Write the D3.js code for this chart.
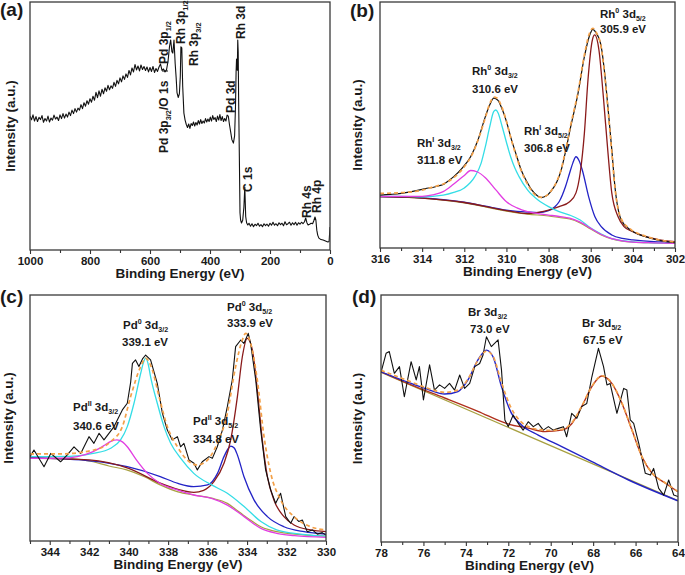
<!DOCTYPE html>
<html><head><meta charset="utf-8">
<script src="https://cdn.jsdelivr.net/npm/d3@7"></script>
<style>
body{margin:0;background:#fff;}
svg text{font-family:"Liberation Sans",Arial,Helvetica,sans-serif;font-weight:bold;fill:#1a1a1a;}
</style></head><body>
<svg id="chart" width="685" height="575"></svg>
<script>
// ---------------- DATA (binding energy eV, intensity a.u.) ----------------
// (a) survey spectrum
const aSurvey = [[1000,54.0],[995,52.5],[990,54.5],[985,52.0],[980,53.8],[975,51.8],[970,53.5],[965,52.6],[960,54.2],[955,51.5],[950,53.0],[945,52.0],[940,54.0],[935,51.6],[930,53.2],[925,52.4],[920,54.4],[915,52.8],[910,53.6],[905,52.2],[900,54.5],[895,53.0],[890,55.0],[885,53.2],[880,54.8],[875,53.6],[870,55.6],[865,54.2],[860,56.4],[855,55.0],[850,57.0],[845,55.6],[840,57.2],[835,56.4],[830,58.6],[825,57.0],[820,59.4],[815,58.0],[810,60.2],[805,58.8],[800,61.0],[795,59.6],[790,62.0],[785,60.4],[780,63.6],[775,61.4],[770,64.2],[765,62.0],[760,64.8],[755,63.0],[750,65.4],[745,64.0],[740,66.4],[735,64.6],[730,66.2],[725,65.2],[720,67.6],[715,66.0],[710,68.4],[705,67.0],[700,69.4],[695,67.8],[690,70.2],[685,68.8],[680,71.0],[675,69.6],[670,72.4],[665,70.6],[660,73.4],[655,71.8],[650,74.8],[645,72.6],[640,74.2],[635,72.2],[630,74.6],[625,72.8],[620,74.0],[615,72.4],[610,73.8],[605,71.8],[600,73.6],[595,72.0],[590,74.0],[585,71.6],[580,73.2],[575,72.0],[570,73.8],[565,75.0],[560,72.4],[555,73.0],[550,71.8],[545,72.6],[540,76.0],[535,82.0],[531,84.7],[527,80.0],[524,79.4],[520,84.7],[516,75.0],[513,69.8],[510,63.5],[506,61.5],[502,63.0],[499,70.0],[497,81.9],[494,81.5],[491,66.0],[487,55.2],[483,52.4],[479,50.6],[475,49.4],[471,50.8],[467,49.0],[463,51.0],[459,50.2],[455,51.6],[451,50.0],[447,51.4],[443,50.4],[439,52.2],[435,50.8],[431,52.6],[427,51.0],[423,52.0],[419,51.2],[415,53.0],[411,51.6],[407,52.8],[403,51.8],[399,53.6],[395,52.0],[391,54.2],[387,52.6],[383,53.4],[379,51.8],[375,54.0],[371,52.4],[367,54.6],[363,52.2],[359,53.8],[355,51.8],[351,53.0],[347,52.0],[343,54.4],[339,54.0],[335,50.5],[331,47.5],[327,44.5],[322,43.1],[318,46.0],[315,58.0],[313,72.0],[311.5,77.0],[310,74.0],[309,72.5],[307.5,84.7],[306,80.0],[304.5,60.0],[302,36.0],[300,15.0],[298,12.1],[295,10.9],[291,12.0],[287,17.3],[284,25.4],[281,13.5],[278,11.0],[274,10.1],[270,10.8],[265,9.6],[260,10.6],[255,9.4],[250,10.4],[245,9.8],[240,10.8],[235,9.6],[230,10.2],[225,9.4],[220,10.6],[215,9.8],[210,10.4],[205,9.6],[200,10.8],[195,10.0],[190,11.2],[185,10.0],[180,10.6],[175,9.8],[170,11.0],[165,10.2],[160,10.8],[155,9.8],[150,11.4],[145,10.2],[140,10.6],[135,11.2],[130,10.0],[125,11.0],[120,10.2],[115,11.2],[110,10.0],[105,11.0],[100,10.4],[95,11.2],[90,10.6],[85,11.4],[81,12.9],[77,11.0],[73,10.1],[68,10.4],[63,10.8],[58,10.6],[54,11.8],[50,13.3],[47,12.0],[44,8.0],[41,6.0],[37,4.8],[30,4.2],[23,4.0],[15,3.6],[7,3.2],[3,3.4],[0,9.3]];
const aTicksMajor = [1000,800,600,400,200,0];
const aTicksMinor = [900,700,500,300,100];

// (b) Rh 3d
const bData = [[316,21.5],[315.5,21.8],[315,22.2],[314.5,22.9],[314,23.8],[313.7,24.4],[313.5,24.6],[313.2,25.3],[313,25.8],[312.9,26.4],[312.5,29.0],[312.1,32.5],[311.7,37.1],[311.35,43.9],[311.0,53.4],[310.8,58.0],[310.6,60.9],[310.4,60.0],[310.25,57.4],[310.0,51.5],[309.8,45.2],[309.5,37.0],[309.3,31.7],[309.0,26.5],[308.8,23.6],[308.5,21.0],[308.35,20.5],[308.1,21.2],[307.9,22.9],[307.6,27.0],[307.4,31.7],[307.2,39.0],[306.95,49.3],[306.6,63.0],[306.3,77.8],[306.05,86.5],[305.9,88.9],[305.75,87.5],[305.5,81.8],[305.35,72.0],[305.2,58.9],[305.0,40.0],[304.85,24.9],[304.55,11.4],[304.1,7.3],[303.4,4.6],[302.7,3.0],[302.0,2.2]];
const bEnvelope = [[316,22.2],[315,22.5],[314,23.5],[313.5,24.8],[313,26.0],[312.5,28.6],[312,33.0],[311.6,38.5],[311.3,45.0],[311,53.0],[310.8,58.5],[310.6,61.3],[310.45,61.0],[310.25,58.0],[310,51.5],[309.8,45.0],[309.5,36.5],[309.3,31.5],[309,26.0],[308.8,23.2],[308.5,20.8],[308.3,20.6],[308.1,21.3],[307.9,23.0],[307.6,27.3],[307.4,32.0],[307.2,39.5],[306.95,50.0],[306.6,63.5],[306.3,78.5],[306.05,87.5],[305.9,89.3],[305.75,87.8],[305.5,81.5],[305.35,71.5],[305.2,58.0],[305,39.0],[304.85,24.5],[304.55,11.8],[304.1,7.6],[303.4,4.8],[302.7,3.2],[302,2.4]];
const bBackground = [[316,20.9],[315,20.7],[314,20.3],[313,19.5],[312,18.3],[311,16.7],[310,15.0],[309,13.8],[308,13.0],[307.5,12.4],[307,11.8],[306.5,10.2],[306,7.7],[305.5,5.3],[305,3.7],[304.5,2.8],[304,2.4],[303,2.1],[302,1.9]];
const bRhI32 = [[316,21.0],[315,21.0],[314,21.0],[313.5,21.6],[313,22.9],[312.5,26.0],[312,29.5],[311.7,31.5],[311.4,31.0],[311,28.6],[310.5,23.6],[310,18.8],[309.5,16.3],[309,14.8],[308.5,14.0],[308,13.4],[307.5,12.8],[307,12.1],[306.5,10.5],[306,8.0],[305.5,5.5],[305,3.8],[304.5,2.9],[304,2.4],[303,2.1],[302,1.9]];
const bRh032 = [[316,21.0],[315,21.0],[314,20.8],[313,21.5],[312.5,22.6],[312,24.4],[311.5,29.0],[311.2,34.5],[311,41.2],[310.8,49.0],[310.6,55.5],[310.5,56.1],[310.4,55.0],[310.2,49.3],[310,43.0],[309.8,37.1],[309.6,32.5],[309.4,29.0],[309,23.6],[308.5,19.5],[308,16.8],[307.5,14.8],[307,13.4],[306.5,11.4],[306,8.1],[305.5,5.7],[305,3.8],[304.5,3.0],[304,2.5],[303,2.1],[302,1.9]];
const bRhI52 = [[316,20.9],[314,20.4],[313,19.7],[312,18.6],[311,17.0],[310,15.4],[309.5,14.9],[309,14.6],[308.5,14.4],[308,15.2],[307.7,16.8],[307.5,18.8],[307.2,24.9],[307,30.5],[306.85,34.5],[306.7,37.1],[306.55,35.5],[306.4,31.7],[306.1,20.9],[305.8,12.7],[305.5,8.7],[305,5.3],[304.5,3.9],[304,3.3],[303,2.6],[302,2.4]];
const bRh052 = [[316,20.9],[314,20.3],[312,18.5],[310,15.2],[309,14.0],[308.5,14.5],[308,15.4],[307.5,16.8],[307,18.8],[306.7,22.4],[306.5,30.5],[306.3,46.7],[306.13,68.3],[305.92,84.6],[305.81,86.6],[305.61,80.5],[305.4,61.5],[305.18,38.6],[305.0,22.4],[304.7,12.7],[304.42,8.7],[304,6.6],[303.5,4.9],[303,3.8],[302.5,3.0],[302,2.6]];
const bTicksMajor = [316,314,312,310,308,306,304,302];
const bTicksMinor = [315,313,311,309,307,305,303];

// (c) Pd 3d
const cData = [[345.0,34.3],[344.8,37.0],[344.29,30.2],[343.95,35.6],[343.45,32.2],[343.11,35.0],[342.77,38.3],[342.43,35.6],[342.01,42.4],[341.76,39.7],[341.5,43.8],[341.25,41.1],[340.74,46.5],[340.32,53.3],[340.07,56.0],[339.9,64.5],[339.81,72.2],[339.65,73.6],[339.48,70.9],[339.3,74.0],[339.14,75.6],[338.89,73.6],[338.55,64.1],[338.29,51.9],[338.04,45.1],[337.79,41.1],[337.53,42.4],[337.37,38.3],[337.2,39.7],[336.94,32.9],[336.69,31.6],[336.52,28.9],[336.27,32.2],[335.93,34.3],[335.76,33.6],[335.51,38.3],[335.25,45.1],[335.0,54.6],[334.75,65.4],[334.58,79.0],[334.32,81.7],[334.16,80.3],[333.94,84.4],[333.82,80.3],[333.56,65.4],[333.31,45.1],[333.06,28.9],[332.8,20.7],[332.55,15.3],[332.3,19.4],[332.04,9.9],[331.79,7.2],[331.62,9.9],[331.37,7.9],[331.2,8.5],[330.95,3.8],[330.69,4.5],[330.44,2.8],[330.19,3.4],[330.0,2.4]];
const cEnvelope = [[345,35.4],[343.45,35.4],[341.76,37.0],[340.91,40.4],[340.32,46.5],[339.9,58.7],[339.39,70.9],[339.14,74.3],[338.8,69.5],[338.46,58.7],[338.04,46.5],[337.53,38.3],[337.03,32.9],[336.52,30.9],[336.01,32.9],[335.51,39.7],[335.0,51.9],[334.58,70.9],[334.24,81.7],[334.07,84.4],[333.82,80.3],[333.48,65.4],[333.14,42.4],[332.8,27.5],[332.3,16.7],[331.62,9.9],[330.78,5.8],[330.02,4.5]];
const cBackground = [[345,33.6],[344,33.6],[343,33.5],[342.5,33.2],[341.8,32.2],[341,30.5],[340.1,28.9],[339.2,26.1],[338.4,22.8],[337.5,20.0],[336.7,18.7],[335.8,17.4],[335,15.3],[334.6,13.0],[334.2,10.6],[333.7,7.8],[333.3,5.8],[332.9,4.6],[332.5,3.8],[331.6,2.8],[330.8,2.3],[330,2.0]];
const cPdII32 = [[345,33.6],[344,33.6],[343,33.8],[342.6,34.3],[341.8,36.3],[341.2,39.0],[340.9,40.5],[340.6,41.1],[340.3,40.2],[340.07,38.3],[339.6,32.9],[339.05,27.5],[338.4,23.4],[337.5,20.7],[336.7,18.7],[335.8,17.3],[335,14.6],[334.15,9.9],[333.3,5.1],[332.5,3.1],[331.6,2.2],[330,1.5]];
const cPd032 = [[345,34.3],[343,34.4],[342.6,34.6],[341.8,35.6],[340.91,37.7],[340.41,41.1],[340.07,46.5],[339.73,56.0],[339.39,68.2],[339.25,72.5],[339.14,74.3],[339.0,71.5],[338.89,66.8],[338.55,56.0],[338.21,46.5],[337.87,39.7],[337.36,33.6],[336.7,27.5],[335.8,22.8],[335,19.4],[334.15,14.0],[333.3,7.9],[332.5,4.5],[331.6,3.1],[330,2.0]];
const cPdII52 = [[345,33.9],[341.8,32.5],[340.07,30.2],[338.4,26.2],[337.5,23.4],[336.7,22.1],[336.0,22.8],[335.5,27.5],[335.17,34.3],[334.95,37.6],[334.83,38.6],[334.65,37.8],[334.49,35.0],[334.16,26.2],[333.65,16.7],[332.97,9.9],[332.13,5.8],[331.11,3.8],[330,2.8]];
const cPd052 = [[345,33.7],[342,33.0],[340,29.5],[338.4,23.5],[337.5,21.0],[336.7,19.8],[336.2,20.6],[335.68,24.1],[335.17,31.6],[334.83,41.1],[334.49,58.7],[334.24,74.9],[333.99,82.4],[333.73,77.6],[333.48,61.4],[333.23,41.1],[332.97,26.2],[332.64,16.7],[332.13,9.9],[331.62,6.5],[330.78,4.5],[330,3.8]];
const cTicksMajor = [344,342,340,338,336,334,332,330];
const cTicksMinor = [345,343,341,339,337,335,333,331];

// (d) Br 3d
const dData = [[78.0,68.7],[77.76,76.4],[77.61,77.1],[77.37,68.3],[77.13,71.0],[76.9,58.8],[76.58,73.0],[76.34,65.6],[76.19,71.0],[76.0,57.5],[75.71,71.7],[75.48,61.5],[75.24,63.6],[75.0,62.2],[74.77,64.2],[74.53,61.5],[74.29,67.6],[74.06,62.2],[73.82,64.2],[73.58,71.0],[73.35,72.3],[73.19,75.7],[73.03,83.1],[72.8,79.1],[72.48,81.8],[72.32,69.6],[72.16,49.4],[72.0,46.7],[71.77,51.4],[71.53,48.0],[71.3,45.3],[71.06,48.7],[70.82,46.7],[70.59,48.0],[70.35,45.3],[70.11,46.7],[69.88,45.3],[69.64,46.0],[69.4,46.7],[69.25,42.6],[69.01,52.1],[68.77,50.1],[68.54,54.8],[68.3,56.1],[68.06,66.9],[67.75,78.4],[67.51,71.0],[67.35,63.6],[67.2,64.2],[66.88,52.1],[66.56,62.2],[66.41,61.5],[66.25,49.4],[66.09,48.0],[65.85,39.9],[65.54,27.8],[65.3,27.1],[65.15,29.8],[64.91,21.7],[64.67,19.0],[64.44,25.1],[64.2,19.0],[64.0,18.4]];
const dEnvelope = [[78,69.5],[76.58,64.8],[75.79,62.2],[75.0,60.6],[74.37,61.5],[73.9,66.0],[73.43,73.5],[73.03,77.3],[72.72,75.2],[72.32,64.5],[71.85,54.0],[71.38,48.5],[71.0,46.5],[70.5,45.5],[70.0,45.2],[69.48,45.6],[69.0,48.3],[68.54,55.0],[68.06,63.0],[67.59,67.3],[67.12,64.3],[66.64,56.2],[66.17,45.4],[65.7,34.6],[65.22,27.9],[64.59,23.9],[64.01,20.5]];
const dBackground = [[78,68.7],[64,16.7]];
const dBr32 = [[78,68.9],[76.58,64.2],[75.79,61.8],[75.0,59.9],[74.37,60.9],[73.9,65.6],[73.43,73.7],[73.03,77.7],[72.72,75.0],[72.32,62.9],[71.85,52.1],[71.38,47.4],[70.59,43.3],[69.48,38.6],[68.06,32.5],[66.33,25.1],[64.01,16.7]];
const dBr52 = [[78,68.9],[76.58,63.6],[75.0,58.3],[73.43,52.9],[72.09,48.0],[71.06,46.1],[70.27,44.7],[69.48,45.3],[69.0,48.0],[68.54,54.8],[68.06,62.9],[67.59,67.2],[67.12,64.2],[66.64,56.1],[66.17,45.3],[65.7,34.5],[65.22,27.8],[64.59,23.8],[64.01,20.4]];
const dTicksMajor = [78,76,74,72,70,68,66,64];
const dTicksMinor = [77,75,73,71,69,67,65];

// ---------------- LAYOUT & STYLE ----------------
const C = {black:"#111", orange:"#f3a048", cyan:"#34dde6", magenta:"#e23de2", blue:"#2323c6", brown:"#8a1a1a", brownD:"#b0301c", olive:"#a8a040"};
const svg = d3.select("#chart");

const panels = [
  {key:"a", tag:"(a)", box:[30,330,2,250], dom:[1000,0], major:aTicksMajor, minor:aTicksMinor, tagPos:[0,16], yTitleX:15,
   series:[{d:aSurvey, c:C.black, w:1.1}]},
  {key:"b", tag:"(b)", box:[380,675,2,248], dom:[316,302], major:bTicksMajor, minor:bTicksMinor, tagPos:[350,17], yTitleX:362,
   series:[{d:bBackground,c:C.olive,w:1.2,s:1},{d:bRhI52,c:C.blue,w:1.3,s:1},{d:bRh052,c:C.brown,w:1.3,s:1},{d:bRh032,c:C.cyan,w:1.3,s:1},{d:bRhI32,c:C.magenta,w:1.3,s:1},{d:bData,c:C.black,w:1.2,s:1},{d:bEnvelope,c:C.orange,w:1.7,s:1,dash:"4,3"}]},
  {key:"c", tag:"(c)", box:[30,326,295,541], dom:[345,330], major:cTicksMajor, minor:cTicksMinor, tagPos:[0,303], yTitleX:13,
   series:[{d:cBackground,c:C.olive,w:1.2,s:1},{d:cPdII52,c:C.blue,w:1.3,s:1},{d:cPd052,c:C.brown,w:1.3,s:1},{d:cPd032,c:C.cyan,w:1.3,s:1},{d:cPdII32,c:C.magenta,w:1.3,s:1},{d:cData,c:C.black,w:1.1},{d:cEnvelope,c:C.orange,w:1.7,s:1,dash:"4,3"}]},
  {key:"d", tag:"(d)", box:[381,678,295,542], dom:[78,64], major:dTicksMajor, minor:dTicksMinor, tagPos:[352,303], yTitleX:362,
   series:[{d:dBackground,c:C.olive,w:1.2},{d:dBr52,c:C.brownD,w:1.4,s:1},{d:dBr32,c:C.blue,w:1.4,s:1},{d:dData,c:C.black,w:1.1},{d:dEnvelope,c:C.orange,w:1.7,s:1,dash:"4,3"}]}
];

// annotation texts: parts [text, kind]
const notes = {
  a: [
    {p:[["Pd 3p"],["3/2","sub"],["/O 1s"]], x:168, y:153, r:1},
    {p:[["Pd 3p"],["1/2","sub"]], x:168, y:64, r:1},
    {p:[["Rh 3p"],["1/2","sub"]], x:185, y:44, r:1},
    {p:[["Rh 3p"],["3/2","sub"]], x:198, y:66, r:1},
    {p:[["Rh 3d"]], x:245, y:39, r:1},
    {p:[["Pd 3d"]], x:235, y:113, r:1},
    {p:[["C 1s"]], x:252, y:192, r:1},
    {p:[["Rh 4s"]], x:311, y:218, r:1},
    {p:[["Rh 4p"]], x:321, y:213, r:1}
  ],
  b: [
    {p:[["Rh"],["0","sup"],[" 3d"],["5/2","sub"]], x:600, y:18},
    {p:[["305.9 eV"]], x:600, y:33},
    {p:[["Rh"],["0","sup"],[" 3d"],["3/2","sub"]], x:472, y:75},
    {p:[["310.6 eV"]], x:472, y:93},
    {p:[["Rh"],["I","sup"],[" 3d"],["3/2","sub"]], x:417, y:147},
    {p:[["311.8 eV"]], x:417, y:164},
    {p:[["Rh"],["I","sup"],[" 3d"],["5/2","sub"]], x:524, y:135},
    {p:[["306.8 eV"]], x:524, y:152}
  ],
  c: [
    {p:[["Pd"],["0","sup"],[" 3d"],["5/2","sub"]], x:227, y:311},
    {p:[["333.9 eV"]], x:227, y:327},
    {p:[["Pd"],["0","sup"],[" 3d"],["3/2","sub"]], x:123, y:329},
    {p:[["339.1 eV"]], x:122, y:346},
    {p:[["Pd"],["II","sup"],[" 3d"],["3/2","sub"]], x:73, y:411},
    {p:[["340.6 eV"]], x:73, y:430},
    {p:[["Pd"],["II","sup"],[" 3d"],["5/2","sub"]], x:193, y:425},
    {p:[["334.8 eV"]], x:193, y:443}
  ],
  d: [
    {p:[["Br 3d"],["3/2","sub"]], x:468, y:316},
    {p:[["73.0 eV"]], x:470, y:333},
    {p:[["Br 3d"],["5/2","sub"]], x:582, y:327},
    {p:[["67.5 eV"]], x:583, y:344}
  ]
};

function rich(g, n, size) {
  const t = g.append("text").attr("font-size", size);
  if (n.r) t.attr("transform", `translate(${n.x},${n.y}) rotate(-90)`);
  else t.attr("x", n.x).attr("y", n.y);
  let shift = 0;
  n.p.forEach(([str, kind]) => {
    const target = kind === "sup" ? -0.4*size : kind === "sub" ? 0.25*size : 0;
    const ts = t.append("tspan").text(str).attr("dy", (target - shift).toFixed(2));
    if (kind) ts.attr("font-size", (size*0.62).toFixed(1));
    shift = target;
  });
}

panels.forEach(P => {
  const [x0,x1,y0,y1] = P.box;
  const x = d3.scaleLinear().domain(P.dom).range([x0,x1]);
  const y = d3.scaleLinear().domain([0,100]).range([y1,y0]);
  const g = svg.append("g");
  const cid = "clip-"+P.key;
  svg.append("defs").append("clipPath").attr("id",cid).append("rect")
     .attr("x",x0).attr("y",y0).attr("width",x1-x0).attr("height",y1-y0);
  const plot = g.append("g").attr("clip-path",`url(#${cid})`);
  P.series.forEach(s => {
    const line = d3.line().x(d=>x(d[0])).y(d=>y(d[1])).curve(s.s ? d3.curveMonotoneX : d3.curveLinear);
    plot.append("path").attr("d", line(s.d)).attr("fill","none")
      .attr("stroke", s.c).attr("stroke-width", s.w)
      .attr("stroke-dasharray", s.dash || null)
      .attr("stroke-linejoin","round");
  });
  // ticks
  const axMinor = g.append("g").attr("transform",`translate(0,${y1})`).attr("color","#333")
    .call(d3.axisBottom(x).tickValues(P.minor).tickSize(3).tickFormat(""));
  axMinor.select(".domain").remove();
  const axMajor = g.append("g").attr("transform",`translate(0,${y1})`).attr("color","#333")
    .call(d3.axisBottom(x).tickValues(P.major).tickSize(4).tickPadding(3).tickFormat(d3.format("d")));
  axMajor.select(".domain").remove();
  axMajor.selectAll("text").style("font-size","11.5px").style("font-weight","bold").style("fill","#1a1a1a");
  g.selectAll(".tick line").attr("stroke-width",1.1);
  // frame
  g.append("rect").attr("x",x0).attr("y",y0).attr("width",x1-x0).attr("height",y1-y0)
    .attr("fill","none").attr("stroke","#3a3a3a").attr("stroke-width",1.3);
  // titles
  g.append("text").attr("x",(x0+x1)/2).attr("y",y1+28).attr("text-anchor","middle")
    .attr("font-size",13.5).text("Binding Energy (eV)");
  g.append("text").attr("transform",`translate(${P.yTitleX},${(y0+y1)/2}) rotate(-90)`)
    .attr("text-anchor","middle").attr("font-size",13.5).text("Intensity (a.u.)");
  g.append("text").attr("x",P.tagPos[0]).attr("y",P.tagPos[1]).attr("font-size",19).text(P.tag);
  // annotations
  notes[P.key].forEach(n => rich(g, n, P.key === "a" ? 12 : 11.5));
});
// leader mark for the O 1s label in (a)
svg.append("line").attr("x1",162).attr("x2",168).attr("y1",71).attr("y2",71).attr("stroke","#111").attr("stroke-width",1);
</script>
</body></html>
